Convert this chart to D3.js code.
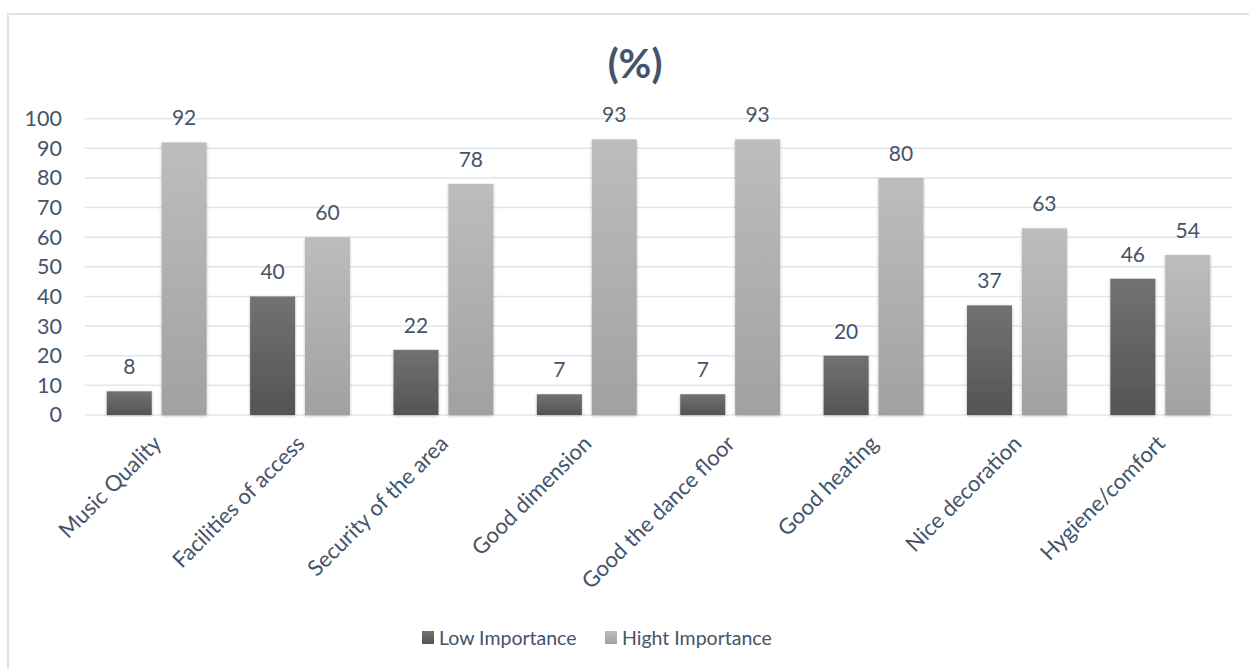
<!DOCTYPE html>
<html>
<head>
<meta charset="utf-8">
<script src="https://cdn.jsdelivr.net/npm/d3@7"></script>
<style>
  body { margin: 0; background: #fff; }
  text { font-family: Lato, "Open Sans", sans-serif; fill: #44546a; }
</style>
</head>
<body>
<div id="chart"></div>
<script>
// chart data
const categories = ['Music Quality', 'Facilities of access', 'Security of the area', 'Good dimension',
  'Good the dance floor', 'Good heating', 'Nice decoration', 'Hygiene/comfort']
const seriesNames = ['Low Importance', 'Hight Importance']
const lowValues = [8, 40, 22, 7, 7, 20, 37, 46]
const highValues = [92, 60, 78, 93, 93, 80, 63, 54]
const yTicks = [0, 10, 20, 30, 40, 50, 60, 70, 80, 90, 100]

// canvas
const width = 1249,
height = 669

const svg = d3.select('#chart')
  .append('svg')
  .attr('width', width)
  .attr('height', height)

const defs = svg.append('defs')
const grads = [['gLow', '#727272', '#545454'], ['gHigh', '#bdbdbd', '#a1a1a1']]
grads.forEach(g => {
  const lg = defs.append('linearGradient').attr('id', g[0])
    .attr('x1', 0).attr('y1', 0).attr('x2', 0).attr('y2', 1)
  lg.append('stop').attr('offset', '0%').attr('stop-color', g[1])
  lg.append('stop').attr('offset', '100%').attr('stop-color', g[2])
})
const shadow = defs.append('filter').attr('id', 'shadow')
  .attr('x', '-20%').attr('y', '-5%').attr('width', '140%').attr('height', '110%')
shadow.append('feDropShadow').attr('dx', 0).attr('dy', 1).attr('stdDeviation', 1.5)
  .attr('flood-color', '#000').attr('flood-opacity', 0.25)

// outer frame
svg.append('rect')
  .attr('x', 8).attr('y', 14)
  .attr('width', 1260).attr('height', 700)
  .attr('fill', 'none')
  .attr('stroke', '#dde3ea')
  .attr('stroke-width', 2)

// scales
const x = d3.scaleBand()
  .domain(categories)
  .range([85, 1232])
  .paddingInner(0.303)
  .paddingOuter(0.1515)

const xInner = d3.scaleBand()
  .domain([0, 1])
  .range([0, x.bandwidth()])
  .paddingInner(0.18)

const y = d3.scaleLinear()
  .domain([0, 100])
  .range([415, 118.7])

// gridlines
svg.append('g')
  .selectAll('line')
  .data(yTicks)
  .enter()
  .append('line')
  .attr('x1', 85)
  .attr('x2', 1232)
  .attr('y1', d => y(d))
  .attr('y2', d => y(d))
  .attr('stroke', '#e1e6ec')
  .attr('stroke-width', 1.5)

// y axis
const yAxis = d3.axisLeft(y).tickValues(yTicks).tickSize(0).tickPadding(0)
const yG = svg.append('g')
  .attr('transform', 'translate(62,0)')
  .call(yAxis)
yG.select('.domain').remove()
yG.selectAll('text')
  .style('font-size', '21.5px')
  .style('font-family', 'Lato, sans-serif')
  .attr('fill', '#44546a')

// bars
const groups = svg.append('g')
  .selectAll('g')
  .data(categories.map((c, i) => ({ c, vals: [lowValues[i], highValues[i]] })))
  .enter()
  .append('g')
  .attr('transform', d => `translate(${x(d.c)},0)`)

groups.selectAll('rect')
  .data(d => d.vals)
  .enter()
  .append('rect')
  .attr('x', (d, i) => xInner(i))
  .attr('y', d => y(d))
  .attr('width', xInner.bandwidth())
  .attr('height', d => y(0) - y(d))
  .attr('fill', (d, i) => i === 0 ? 'url(#gLow)' : 'url(#gHigh)')
  .attr('filter', 'url(#shadow)')

groups.selectAll('text.val')
  .data(d => d.vals)
  .enter()
  .append('text')
  .attr('class', 'val')
  .attr('x', (d, i) => xInner(i) + xInner.bandwidth() / 2)
  .attr('y', d => y(d) - 17)
  .attr('text-anchor', 'middle')
  .style('font-size', '21px')
  .text(d => d)

// x labels
const xAxis = d3.axisBottom(x).tickSize(0).tickPadding(0)
const xG = svg.append('g')
  .call(xAxis)
xG.select('.domain').remove()
xG.selectAll('.tick text')
  .attr('transform', 'translate(6,445) rotate(-45)')
  .attr('y', 0)
  .attr('dy', 0)
  .attr('text-anchor', 'end')
  .style('font-size', '22px')
  .style('font-family', 'Lato, sans-serif')
  .attr('fill', '#44546a')

// title
svg.append('text')
  .attr('x', 635)
  .attr('y', 78)
  .attr('text-anchor', 'middle')
  .style('font-size', '40px')
  .style('font-weight', 'bold')
  .text('(%)')

// legend
const legend = svg.append('g')
  .selectAll('g')
  .data(seriesNames)
  .enter()
  .append('g')
  .attr('transform', (d, i) => `translate(${i === 0 ? 422 : 605},631)`)
legend.append('rect')
  .attr('width', 12).attr('height', 13)
  .attr('fill', (d, i) => i === 0 ? 'url(#gLow)' : 'url(#gHigh)')
legend.append('text')
  .attr('x', 17)
  .attr('y', 14)
  .style('font-size', '19.5px')
  .text(d => d)
</script>
</body>
</html>
